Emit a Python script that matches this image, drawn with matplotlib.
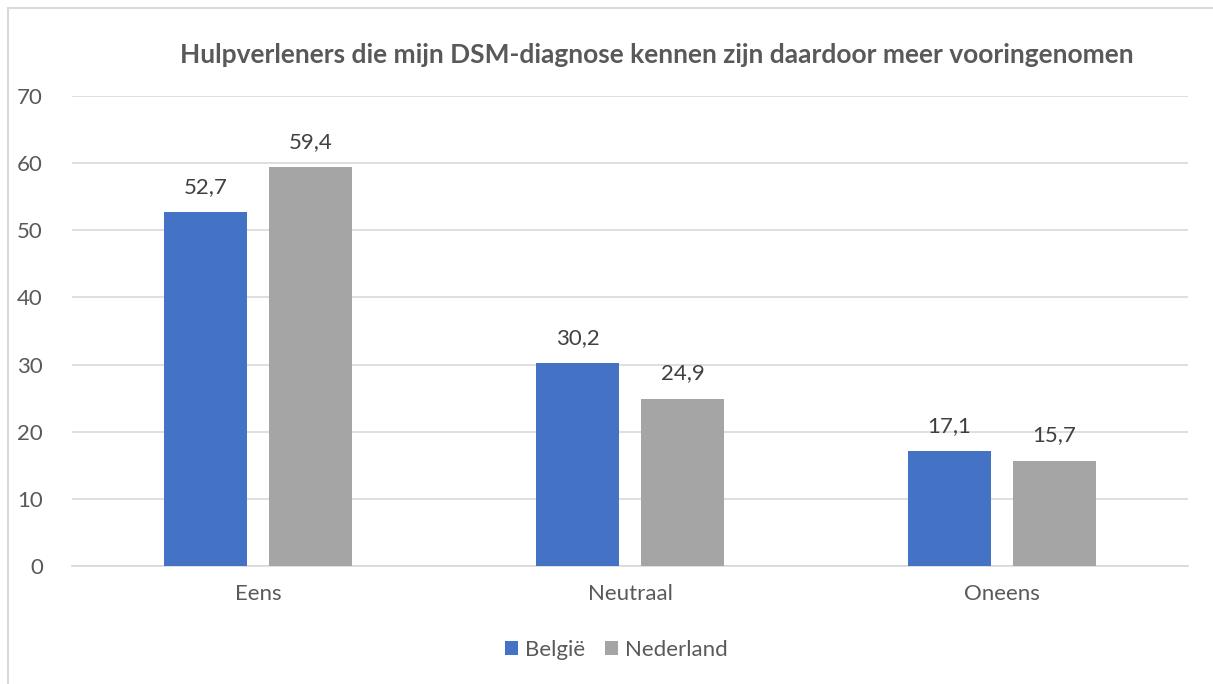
import matplotlib
matplotlib.use("Agg")
import matplotlib.pyplot as plt
import numpy as np
from matplotlib.patches import Rectangle

categories = ["Eens", "Neutraal", "Oneens"]
belgie = [52.7, 30.2, 17.1]
nederland = [59.4, 24.9, 15.7]
series_names = ["België", "Nederland"]
title = "Hulpverleners die mijn DSM-diagnose kennen zijn daardoor meer vooringenomen"

plt.rcParams['font.family'] = ['Lato', 'DejaVu Sans']
txt = "#595959"
W, H = 1213, 684
fig = plt.figure(figsize=(W/100, H/100), dpi=100)

# outer border
fig.patches.append(Rectangle((7.5/W, -0.01), (W+20)/W, (H-7.5)/H + 0.01, transform=fig.transFigure,
                             fill=False, edgecolor="#d9d9d9", lw=1.5))

ax = fig.add_axes([72/W, 118/H, (1188-72)/W, (566-96)/H])
x = np.arange(len(categories))
bw = 0.223
gap = 0.059
off = (bw + gap) / 2
b1 = ax.bar(x - off, belgie, bw, color="#4472C4", label=series_names[0], zorder=3)
b2 = ax.bar(x + off, nederland, bw, color="#A5A5A5", label=series_names[1], zorder=3)
for bars, vals in ((b1, belgie), (b2, nederland)):
    for r, v in zip(bars, vals):
        ax.annotate(f"{v:.1f}".replace(".", ","), (r.get_x() + r.get_width()/2, v),
                    xytext=(0, 11), textcoords="offset points", ha="center", va="bottom",
                    fontsize=16, color="#404040")

ax.set_xlim(-0.5, 2.5)
ax.set_ylim(0, 70)
ax.set_yticks(range(0, 71, 10))
ax.set_xticks(x)
ax.set_xticklabels(categories)
ax.yaxis.grid(True, color="#d9d9d9", lw=1.2, zorder=0)
for s in ["top", "right", "left"]:
    ax.spines[s].set_visible(False)
ax.spines["bottom"].set_color("#d9d9d9")
ax.spines["bottom"].set_linewidth(1.2)
ax.tick_params(axis="both", length=0, labelsize=16, labelcolor=txt)
ax.tick_params(axis="y", pad=21)
ax.tick_params(axis="x", pad=13)

fig.text(657/W, 1 - 55/H, title, ha="center", va="center", fontsize=19, fontweight="bold", color=txt)

fig.legend(handles=[b1, b2], labels=series_names, loc="center", bbox_to_anchor=(616/W, 1 - 650/H),
           ncol=2, frameon=False, fontsize=16, labelcolor=txt, handlelength=0.6, handleheight=0.6,
           handletextpad=0.3, columnspacing=0.9)

fig.savefig("out.png", dpi=100)
